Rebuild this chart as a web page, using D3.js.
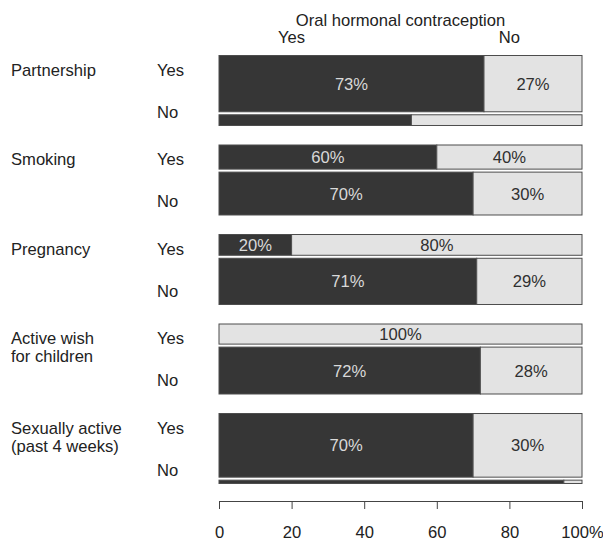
<!DOCTYPE html>
<html>
<head>
<meta charset="utf-8">
<script src="https://cdn.jsdelivr.net/npm/d3@7"></script>
<style>
  html, body { margin: 0; padding: 0; background: #fff; }
  text { font-family: "Liberation Sans", Arial, Helvetica, sans-serif; }
</style>
</head>
<body>
<svg id="chart" width="603" height="544"></svg>
<script>
// ---- data ----
const groups = ["Partnership", "Smoking", "Pregnancy", "Active wish for children", "Sexually active (past 4 weeks)"];
const groupLines = [["Partnership"], ["Smoking"], ["Pregnancy"], ["Active wish", "for children"], ["Sexually active", "(past 4 weeks)"]];
// share of each group answering "Yes" (controls bar heights)
const yesShare = [0.84, 0.36, 0.31, 0.30, 0.95];
// % using oral hormonal contraception, within the "Yes" and "No" rows
const pctYesRow = [73, 60, 20, 0, 70];
const pctNoRow = [53, 70, 71, 72, 95];
const tickValues = [0, 20, 40, 60, 80, 100];
const outcomeLabels = ["Yes", "No"];
const title = "Oral hormonal contraception";

// ---- layout ----
const svg = d3.select("#chart");
const x = d3.scaleLinear().domain([0, 100]).range([219, 582]);
const y = d3.scaleBand().domain(groups).range([55.5, 483.5]).paddingInner(0.218).paddingOuter(0);
const gap = 3;
const DARK = "#363636", LIGHT = "#e3e3e3", STROKE = "#4d4d4d";
const FS = 16.6;

// header
svg.append("text").attr("x", x(50)).attr("y", 25.5).attr("text-anchor", "middle")
  .attr("font-size", FS).attr("fill", "#222").text(title);
svg.append("text").attr("x", x(20)).attr("y", 43).attr("text-anchor", "middle")
  .attr("font-size", FS).attr("fill", "#222").text(outcomeLabels[0]);
svg.append("text").attr("x", x(80)).attr("y", 43).attr("text-anchor", "middle")
  .attr("font-size", FS).attr("fill", "#222").text(outcomeLabels[1]);

const rows = [];
groups.forEach((g, i) => {
  const top = y(g);
  const avail = y.bandwidth() - gap;
  const hY = avail * yesShare[i];
  const hN = avail - hY;
  rows.push({ g, i, kind: "Yes", y0: top, h: hY, pct: pctYesRow[i] });
  rows.push({ g, i, kind: "No", y0: top + hY + gap, h: hN, pct: pctNoRow[i] });
});

const rg = svg.append("g");
rows.forEach(r => {
  if (r.pct > 0) {
    rg.append("rect").attr("x", x(0)).attr("y", r.y0).attr("width", x(r.pct) - x(0)).attr("height", r.h)
      .attr("fill", DARK).attr("stroke", STROKE).attr("stroke-width", 1);
  }
  if (r.pct < 100) {
    rg.append("rect").attr("x", x(r.pct)).attr("y", r.y0).attr("width", x(100) - x(r.pct)).attr("height", r.h)
      .attr("fill", LIGHT).attr("stroke", STROKE).attr("stroke-width", 1);
  }
  if (r.h > 14) {
    const cy = r.y0 + r.h / 2;
    if (r.pct > 0) {
      rg.append("text").attr("x", (x(0) + x(r.pct)) / 2).attr("y", cy).attr("dy", "0.36em")
        .attr("text-anchor", "middle").attr("font-size", FS).attr("fill", "#d9d9d9").text(r.pct + "%");
    }
    if (r.pct < 100) {
      rg.append("text").attr("x", (x(r.pct) + x(100)) / 2).attr("y", cy).attr("dy", "0.36em")
        .attr("text-anchor", "middle").attr("font-size", FS).attr("fill", "#303030").text((100 - r.pct) + "%");
    }
  }
});

// left labels
const lg = svg.append("g").attr("font-size", FS).attr("fill", "#222");
groups.forEach((g, i) => {
  const top = y(g);
  groupLines[i].forEach((ln, k) => {
    lg.append("text").attr("x", 11).attr("y", top + 20 + k * 18).text(ln);
  });
  lg.append("text").attr("x", 157).attr("y", top + 20).text(outcomeLabels[0]);
  lg.append("text").attr("x", 157).attr("y", top + 62).text(outcomeLabels[1]);
});

// axis
const axis = d3.axisBottom(x).tickValues(tickValues)
  .tickFormat(d => d === 100 ? "100%" : String(d))
  .tickSize(8).tickSizeOuter(0).tickPadding(17);
const ag = svg.append("g").attr("transform", "translate(0,501)").call(axis);
ag.selectAll("path, line").attr("stroke", "#444");
ag.selectAll("text").attr("font-size", FS).attr("fill", "#222")
  .style("font-family", '"Liberation Sans", Arial, sans-serif');
</script>
</body>
</html>
